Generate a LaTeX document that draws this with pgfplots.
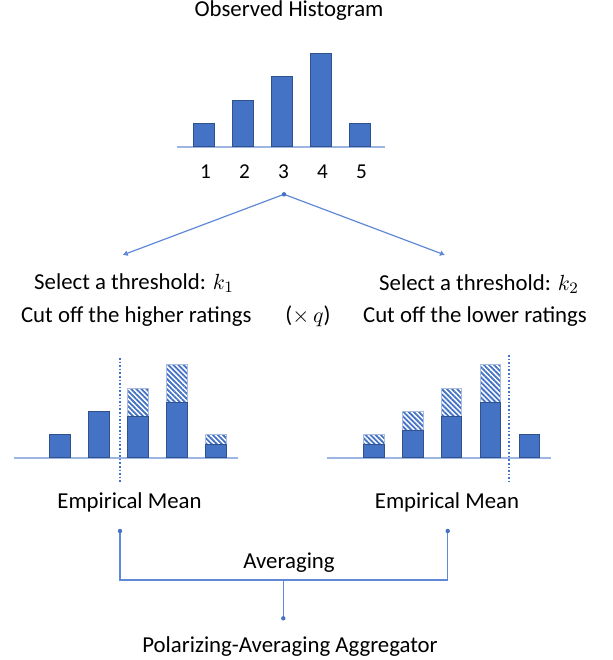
\documentclass[border=0pt]{standalone}
\usepackage{fontspec}
\setmainfont{Carlito}
\usepackage{pgfplots}
\pgfplotsset{compat=1.18}
\usetikzlibrary{patterns.meta, arrows.meta}
\definecolor{barblue}{HTML}{4472C4}
\definecolor{bardark}{HTML}{2F528F}
\definecolor{linkblue}{HTML}{5F89D6}
\definecolor{baseblue}{HTML}{9DB5E2}
\definecolor{hatchedge}{HTML}{A9BCE0}
\newcommand{\fs}{\fontsize{11.4}{13.7}\selectfont}

\begin{document}
\begin{tikzpicture}
\begin{scope}[x=0.5pt,y=-0.5pt]
\path[use as bounding box] (0,0) rectangle (613,660);
% texts
\node[anchor=base, font=\fs, inner sep=0] at (289,16.7) {Observed Histogram};
\node[anchor=base, font=\fs, inner sep=0] at (134,289) {Select a threshold: $k_1$};
\node[anchor=base, font=\fs, inner sep=0] at (136.3,322) {Cut off the higher ratings};
\node[anchor=base, font=\fs, inner sep=0] at (308,322) {($\times\,q$)};
\node[anchor=base, font=\fs, inner sep=0] at (479,290) {Select a threshold: $k_2$};
\node[anchor=base, font=\fs, inner sep=0] at (475,322) {Cut off the lower ratings};
\node[anchor=base, font=\fs, inner sep=0] at (129.5,508) {Empirical Mean};
\node[anchor=base, font=\fs, inner sep=0] at (447,508) {Empirical Mean};
\node[anchor=base, font=\fs, inner sep=0] at (289,568.5) {Averaging};
\node[anchor=base, font=\fs, inner sep=0] at (290,652) {Polarizing-Averaging Aggregator};
% connectors
\draw[linkblue, line width=0.6pt, -{Latex[length=2.5pt,width=3pt]}] (284,194.3) -- (122.7,255);
\draw[linkblue, line width=0.6pt, -{Latex[length=2.5pt,width=3pt]}] (284,194.3) -- (445,255);
\fill[barblue] (284,194.3) circle (2.2);
\draw[linkblue, line width=0.7pt] (120,531) -- (120,580) -- (447.7,580) -- (447.7,531);
\draw[linkblue, line width=0.7pt] (283.3,580) -- (283.3,618.3);
\fill[barblue] (120,531) circle (2.2);
\fill[barblue] (447.7,531) circle (2.2);
\fill[barblue] (283.3,618.3) circle (2.2);
\end{scope}

% top histogram
\begin{axis}[at={(88.5pt,-73.35pt)}, anchor=south west,
  x=19.5pt, y=11.65pt, xmin=0.32, xmax=5.65, ymin=0, ymax=4.2,
  axis x line=bottom, axis y line=none, ytick=\empty,
  x axis line style={-, draw=baseblue, line width=0.8pt},
  xtick={1,2,3,4,5}, xticklabels={1,2,3,4,5}, major tick length=0pt,
  xticklabel style={anchor=base, yshift=-15.8pt, xshift=1pt, font=\fontsize{10.6}{12}\selectfont},
  ybar, bar width=10.5pt, bar shift=0pt, clip=false]
\addplot[fill=barblue, draw=bardark, line width=0.5pt] coordinates {(1,1) (2,2) (3,3) (4,4) (5,1)};
\end{axis}

% lower left: cut off the higher ratings
\begin{axis}[at={(7pt,-228.85pt)}, anchor=south west,
  x=19.45pt, y=11.6pt, xmin=-0.19, xmax=5.57, ymin=0, ymax=4.5,
  hide axis, ybar, bar width=10.35pt, bar shift=0pt, clip=false]
\draw[baseblue, line width=0.8pt] (axis cs:-0.19,0) -- (axis cs:5.57,0);
\addplot[pattern={Lines[angle=-45,distance=1.8pt,line width=0.9pt]}, pattern color=barblue, draw=hatchedge, line width=0.5pt]
  coordinates {(3,3) (4,4) (5,1)};
\addplot[fill=barblue, draw=bardark, line width=0.5pt]
  coordinates {(1,1) (2,2) (3,1.77) (4,2.36) (5,0.59)};
\draw[barblue, densely dotted, line width=0.8pt] (axis cs:2.54,4.3) -- (axis cs:2.54,-1.05);
\end{axis}

% lower right: cut off the lower ratings
\begin{axis}[at={(163.35pt,-228.85pt)}, anchor=south west,
  x=19.45pt, y=11.6pt, xmin=-0.21, xmax=5.55, ymin=0, ymax=4.5,
  hide axis, ybar, bar width=10.35pt, bar shift=0pt, clip=false]
\draw[baseblue, line width=0.8pt] (axis cs:-0.21,0) -- (axis cs:5.55,0);
\addplot[pattern={Lines[angle=-45,distance=1.8pt,line width=0.9pt]}, pattern color=barblue, draw=hatchedge, line width=0.5pt]
  coordinates {(1,1) (2,2) (3,3) (4,4)};
\addplot[fill=barblue, draw=bardark, line width=0.5pt]
  coordinates {(1,0.59) (2,1.19) (3,1.77) (4,2.36) (5,1)};
\draw[barblue, densely dotted, line width=0.8pt] (axis cs:4.48,4.43) -- (axis cs:4.48,-1.05);
\end{axis}
\end{tikzpicture}
\end{document}
